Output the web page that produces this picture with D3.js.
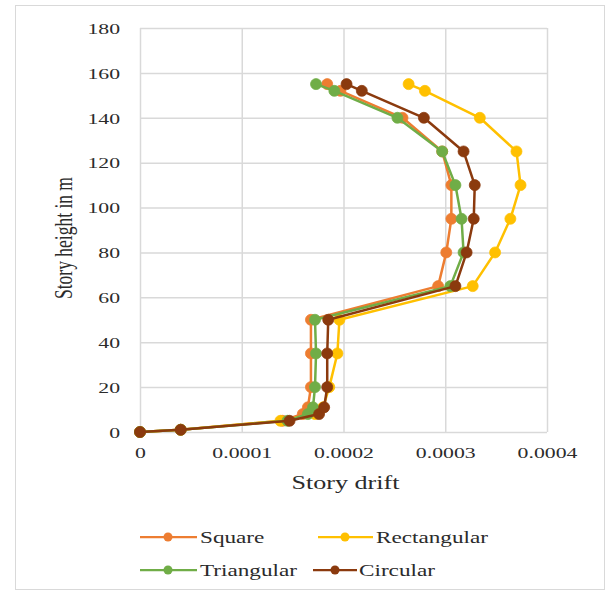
<!DOCTYPE html>
<html>
<head>
<meta charset="utf-8">
<script src="https://cdn.jsdelivr.net/npm/d3@7/dist/d3.min.js"></script>
<style>
  body { margin: 0; background: #fff; }
  text { font-family: "Liberation Serif", "Times New Roman", serif; fill: #2b2b2b; }
</style>
</head>
<body>
<svg id="chart" width="608" height="595"></svg>
<script>
// story heights (m) shared by every series
var heights = [0, 1, 5, 8, 11, 20, 35, 50, 65, 80, 95, 110, 125, 140, 152, 155];

var square      = [0, 0.000040, 0.000140, 0.000160, 0.000165, 0.000168, 0.000168, 0.000168, 0.000293, 0.000301, 0.000306, 0.000306, 0.000297, 0.000258, 0.000197, 0.000184];
var rectangular = [0, 0.000040, 0.000138, 0.000172, 0.000180, 0.000186, 0.000194, 0.000196, 0.000327, 0.000349, 0.000364, 0.000374, 0.000370, 0.000334, 0.000280, 0.000264];
var triangular  = [0, 0.000040, 0.000145, 0.000165, 0.000170, 0.000172, 0.000173, 0.000172, 0.000305, 0.000318, 0.000316, 0.000310, 0.000297, 0.000253, 0.000191, 0.000173];
var circular    = [0, 0.000040, 0.000147, 0.000176, 0.000181, 0.000184, 0.000184, 0.000185, 0.000310, 0.000321, 0.000328, 0.000329, 0.000318, 0.000279, 0.000218, 0.000203];

var seriesNames = ['Square', 'Rectangular', 'Triangular', 'Circular'];
var xTicks = [0, 0.0001, 0.0002, 0.0003, 0.0004];
var xTickLabels = ['0', '0.0001', '0.0002', '0.0003', '0.0004'];
var yTicks = [0, 20, 40, 60, 80, 100, 120, 140, 160, 180];

var colors = ['#ED7D31', '#FFC000', '#70AD47', '#8B3A0E'];
var stretch = 1.45; // the picture is wider than it is tall

var series = [square, rectangular, triangular, circular].map(function (vals, i) {
    return {
        name: seriesNames[i],
        color: colors[i],
        points: vals.map(function (v, j) { return { drift: v, h: heights[j] }; })
    };
});

var svg = d3.select('#chart');

svg.append('rect')
    .attr('x', 15.5).attr('y', 5.5)
    .attr('width', 589).attr('height', 584)
    .attr('fill', '#fff')
    .attr('stroke', '#d9d9d9');

var plotLeft = 140, plotRight = 547, plotTop = 28, plotBottom = 432;
var width = plotRight - plotLeft, height = plotBottom - plotTop;

var x = d3.scaleLinear().domain([0, 0.0004]).range([0, width]);
var y = d3.scaleLinear().domain([0, 180]).range([height, 0]);

var g = svg.append('g').attr('transform', 'translate(' + plotLeft + ',' + plotTop + ')');

// axes with gridlines
var yAxis = d3.axisLeft(y)
    .tickValues(yTicks)
    .tickSize(-width)
    .tickPadding(0)
    .tickFormat(d3.format('d'));

var gy = g.append('g').call(yAxis);
gy.select('.domain').remove();
gy.selectAll('line').attr('stroke', '#d9d9d9').attr('stroke-width', 1.5);
gy.selectAll('text')
    .attr('x', -20 / stretch)
    .attr('dy', '0.35em')
    .attr('transform', 'scale(' + stretch + ',1)')
    .style('font-size', '15px')
    .style('font-family', '"Liberation Serif", serif')
    .attr('fill', '#2b2b2b');

var xAxis = d3.axisBottom(x)
    .tickValues(xTicks)
    .tickSize(-height)
    .tickPadding(15)
    .tickFormat(function (d, i) { return xTickLabels[i]; });

var gx = g.append('g').attr('transform', 'translate(0,' + height + ')').call(xAxis);
gx.select('.domain').remove();
gx.selectAll('line').attr('stroke', '#d9d9d9').attr('stroke-width', 1.5);
gx.selectAll('text')
    .attr('transform', 'scale(' + stretch + ',1)')
    .style('font-size', '15px')
    .style('font-family', '"Liberation Serif", serif')
    .attr('fill', '#2b2b2b');

// axis titles
g.append('text')
    .attr('transform', 'translate(' + (width / 2 + 2) + ',' + (height + 57) + ') scale(' + stretch + ',1)')
    .attr('text-anchor', 'middle')
    .style('font-size', '18px')
    .text('Story drift');

svg.append('text')
    .attr('transform', 'translate(63,238) scale(' + stretch + ',1) rotate(-90)')
    .attr('text-anchor', 'middle')
    .attr('dy', '0.35em')
    .style('font-size', '17.5px')
    .text('Story height in m');

// lines + markers
var line = d3.line()
    .x(function (d) { return x(d.drift); })
    .y(function (d) { return y(d.h); });

series.forEach(function (s) {
    var sg = g.append('g');
    sg.append('path')
        .datum(s.points)
        .attr('d', line)
        .attr('fill', 'none')
        .attr('stroke', s.color)
        .attr('stroke-width', 2.5)
        .attr('stroke-linejoin', 'round');
    sg.selectAll('circle')
        .data(s.points)
        .enter()
        .append('circle')
        .attr('cx', function (d) { return x(d.drift); })
        .attr('cy', function (d) { return y(d.h); })
        .attr('r', 5.5)
        .attr('fill', s.color)
        .attr('stroke', s.color)
        .attr('stroke-width', 0.75);
});

// legend
var legendPos = [
    { x1: 140, x2: 197, mx: 168, tx: 200, y: 537 },
    { x1: 318, x2: 373, mx: 345, tx: 376, y: 537 },
    { x1: 140, x2: 197, mx: 168, tx: 200, y: 570 },
    { x1: 313, x2: 357, mx: 335, tx: 359, y: 570 }
];

series.forEach(function (s, i) {
    var p = legendPos[i];
    var lg = svg.append('g');
    lg.append('line')
        .attr('x1', p.x1).attr('x2', p.x2)
        .attr('y1', p.y).attr('y2', p.y)
        .attr('stroke', s.color)
        .attr('stroke-width', 2.25);
    lg.append('circle')
        .attr('cx', p.mx).attr('cy', p.y)
        .attr('r', 4.5)
        .attr('fill', s.color);
    lg.append('text')
        .attr('transform', 'translate(' + p.tx + ',' + p.y + ') scale(' + stretch + ',1)')
        .attr('dy', '0.35em')
        .style('font-size', '16px')
        .text(s.name);
});
</script>
</body>
</html>
